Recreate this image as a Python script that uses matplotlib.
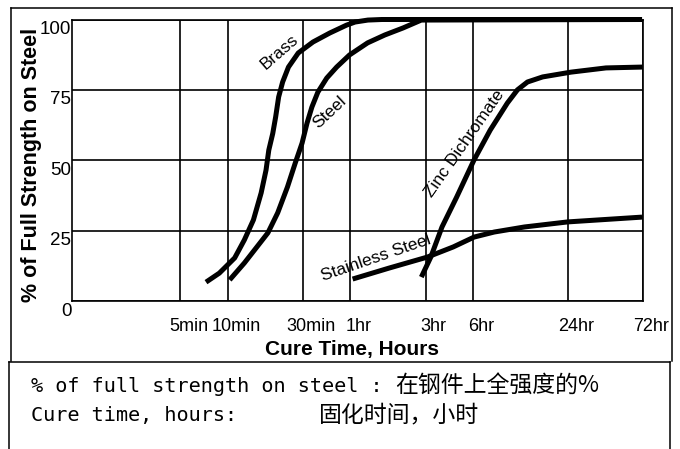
import matplotlib
matplotlib.use('Agg')
import matplotlib.pyplot as plt
from matplotlib import font_manager
from matplotlib.transforms import ScaledTranslation
from matplotlib.lines import Line2D
from matplotlib.ticker import NullLocator

# ---------------- data ----------------
tick_hours = [5 / 60, 10 / 60, 0.5, 1, 3, 6, 24, 72]
tick_labels = ['5min', '10min', '30min', '1hr', '3hr', '6hr', '24hr', '72hr']
y_ticks = [0, 25, 50, 75, 100]
y_tick_labels = ['0', '25', '50', '75', '100']

brass_h = [0.121, 0.147, 0.184, 0.212, 0.242, 0.271, 0.291, 0.303, 0.321, 0.335,
           0.350, 0.371, 0.404, 0.466, 0.578, 0.739, 0.944, 1.07, 1.29, 1.58, 71]
brass_v = [6.7, 9.9, 15.3, 21.7, 28.8, 38.4, 46.5, 53.6, 59.5, 65.4,
           72.5, 77.8, 83.1, 88.1, 92.0, 95.2, 98.0, 99.1, 99.8, 100, 100]

steel_h = [0.171, 0.212, 0.299, 0.345, 0.398, 0.446, 0.493, 0.530, 0.569, 0.621,
           0.707, 0.817, 0.986, 1.285, 1.652, 2.158, 2.818, 71]
steel_v = [7.5, 13.5, 24.2, 31.3, 40.5, 49.0, 56.1, 63.2, 68.9, 74.2,
           79.2, 83.1, 87.4, 91.7, 94.5, 97.0, 99.8, 100]

zinc_h = [2.818, 3.236, 3.812, 4.722, 6.089, 7.712, 9.906, 11.48, 13.30, 16.60,
          25.1, 41.9, 71]
zinc_v = [8.5, 15.6, 26.3, 36.9, 50.1, 60.7, 70.3, 75.0, 77.8, 79.6,
          81.3, 82.8, 83.1]

stainless_h = [1.032, 1.760, 3.076, 4.491, 6.089, 8.179, 12.73, 24.0, 71]
stainless_v = [7.8, 11.7, 15.6, 19.2, 22.7, 24.5, 26.3, 28.1, 29.8]

series_names = ['Brass', 'Steel', 'Zinc Dichromate', 'Stainless Steel']
label_hours = [0.355, 0.738, 5.29, 1.458]
label_values = [88.5, 67.1, 55.8, 15.3]
label_angles = [41, 43, 55, 19]

y_title = '% of Full Strength on Steel'
x_title = 'Cure Time, Hours'
note_lines_latin = ['% of full strength on steel :', 'Cure time, hours:']
note_lines_cjk = ['在钢件上全强度的%', '固化时间，小时']

# ---------------- fonts ----------------
plt.rcParams['font.family'] = ['Liberation Sans', 'DejaVu Sans']
avail = {f.name for f in font_manager.fontManager.ttflist}
if 'Noto Sans Mono CJK SC' in avail:
    mono_family = ['Noto Sans Mono CJK SC', 'DejaVu Sans Mono']
    mono_size = 17
else:
    mono_family = ['DejaVu Sans Mono']
    mono_size = 14.5
cjk_family = ['Noto Sans CJK SC', 'DejaVu Sans']

# ---------------- figure ----------------
W, H, DPI = 680, 449, 100
fig = plt.figure(figsize=(W / DPI, H / DPI), dpi=DPI)


def fx(px):
    return px / W


def fy(py):
    return 1 - py / H


ax = fig.add_axes([fx(72), fy(301), fx(643) - fx(72), fy(19.5) - fy(301)])
ax.set_xscale('log')
ax.set_xlim(0.01706, 72)
ax.set_ylim(0, 100)
ax.set_xticks(tick_hours)
ax.set_xticklabels(tick_labels)
ax.xaxis.set_minor_locator(NullLocator())
ax.set_yticks(y_ticks)
ax.set_yticklabels(y_tick_labels)
ax.grid(True, color='black', lw=1.2)
ax.set_axisbelow(True)
for sp in ax.spines.values():
    sp.set_color('black')
    sp.set_linewidth(1.2)
ax.tick_params(axis='x', length=0, labelsize=13, pad=12.5)
ax.tick_params(axis='y', length=0, labelsize=13.5, pad=0.5)

dx = ScaledTranslation(8 / DPI, 0, fig.dpi_scale_trans)
for lab in ax.get_xticklabels():
    lab.set_transform(lab.get_transform() + dx)
dy = ScaledTranslation(0, -8 / DPI, fig.dpi_scale_trans)
for lab in ax.get_yticklabels():
    lab.set_transform(lab.get_transform() + dy)

for h, v in [(brass_h, brass_v), (steel_h, steel_v), (zinc_h, zinc_v),
             (stainless_h, stainless_v)]:
    ax.plot(h, v, color='black', lw=3.6, solid_capstyle='butt',
            solid_joinstyle='round', clip_on=False, zorder=3)

for name, lh, lv, ang in zip(series_names, label_hours, label_values, label_angles):
    ax.text(lh, lv, name, rotation=ang, rotation_mode='anchor', ha='center',
            va='center', fontsize=12.5, color='black', zorder=4)

# axis titles
fig.text(fx(32), fy(165), y_title, rotation=90, ha='center', va='center',
         fontsize=15.5, fontweight='bold')
fig.text(fx(352), fy(350), x_title, ha='center', va='center',
         fontsize=15, fontweight='bold')

# frames
lw = 1.1
def fline(x0, y0, x1, y1):
    fig.add_artist(Line2D([fx(x0), fx(x1)], [fy(y0), fy(y1)], color='black',
                          lw=lw, transform=fig.transFigure))

fline(11, 8, 672, 8)
fline(11, 8, 11, 361)
fline(672, 8, 672, 361)
fline(9, 361.5, 670, 361.5)
fline(9, 361.5, 9, 449)
fline(670, 361.5, 670, 449)

# note box text
fig.text(fx(31), fy(386), note_lines_latin[0], family=mono_family,
         fontsize=mono_size, ha='left', va='center')
fig.text(fx(31), fy(415), note_lines_latin[1], family=mono_family,
         fontsize=mono_size, ha='left', va='center')
fig.text(fx(395), fy(386), note_lines_cjk[0], family=cjk_family,
         fontsize=16.5, ha='left', va='center')
fig.text(fx(319), fy(415), note_lines_cjk[1], family=cjk_family,
         fontsize=16.5, ha='left', va='center')

fig.savefig('out.png', dpi=DPI)
